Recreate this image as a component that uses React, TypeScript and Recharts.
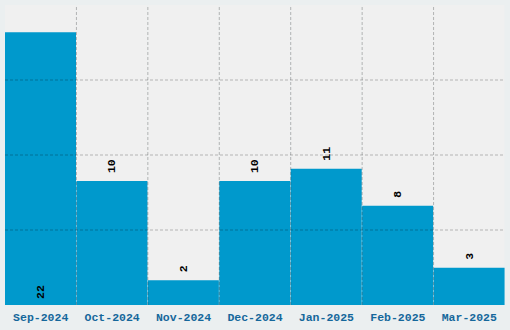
import { BarChart, Bar, XAxis, YAxis, ReferenceLine, LabelList } from "recharts";

const months = ["Sep-2024", "Oct-2024", "Nov-2024", "Dec-2024", "Jan-2025", "Feb-2025", "Mar-2025"];
const counts = [22, 10, 2, 10, 11, 8, 3];
const yGrid = [6.05, 12.1, 18.15];

const data = months.map((month, i) => ({ month, count: counts[i] }));

const FONT = "'Liberation Mono', 'DejaVu Sans Mono', monospace";
const gridLine = { stroke: "#000", strokeOpacity: 0.25, strokeDasharray: "3 2" };

function BarValue(props: any) {
  const { x, y, width, height, value } = props;
  const cx = x + width / 2;
  // tallest bar has its label tucked inside at the bottom
  const sy = y < 40 ? y + height - 6 : y - 8;
  return (
    <text
      x={cx}
      y={sy}
      transform={`rotate(-90, ${cx}, ${sy})`}
      textAnchor="start"
      dominantBaseline="central"
      fontFamily={FONT}
      fontWeight="bold"
      fontSize={11.5}
      fill="#000"
    >
      {value}
    </text>
  );
}

export default function App() {
  return (
    <div style={{ position: "absolute", left: 0, top: 0, width: 510, height: 330, background: "#ebeff0" }}>
      <BarChart
        width={510}
        height={330}
        data={data}
        margin={{ top: 5, right: 5, bottom: 0, left: 5 }}
        barCategoryGap={0}
      >
        <XAxis
          dataKey="month"
          height={25}
          axisLine={false}
          tickLine={false}
          interval={0}
          tick={{ fill: "#15679b", fontSize: 11.5, fontWeight: "bold", fontFamily: FONT }}
          tickMargin={2}
        />
        <YAxis hide domain={[0, 24.2]} />
        <Bar dataKey="count" fill="#0099cc" background={{ fill: "#f0f0f0" }} isAnimationActive={false}>
          <LabelList dataKey="count" content={BarValue} />
        </Bar>
        {yGrid.map((v) => (
          <ReferenceLine key={`h${v}`} y={v} {...gridLine} />
        ))}
        {/* vertical grid sits on the left edge of every month after the first */}
        {months.slice(1).map((m) => (
          <ReferenceLine key={`v${m}`} x={m} position="start" {...gridLine} />
        ))}
      </BarChart>
    </div>
  );
}
